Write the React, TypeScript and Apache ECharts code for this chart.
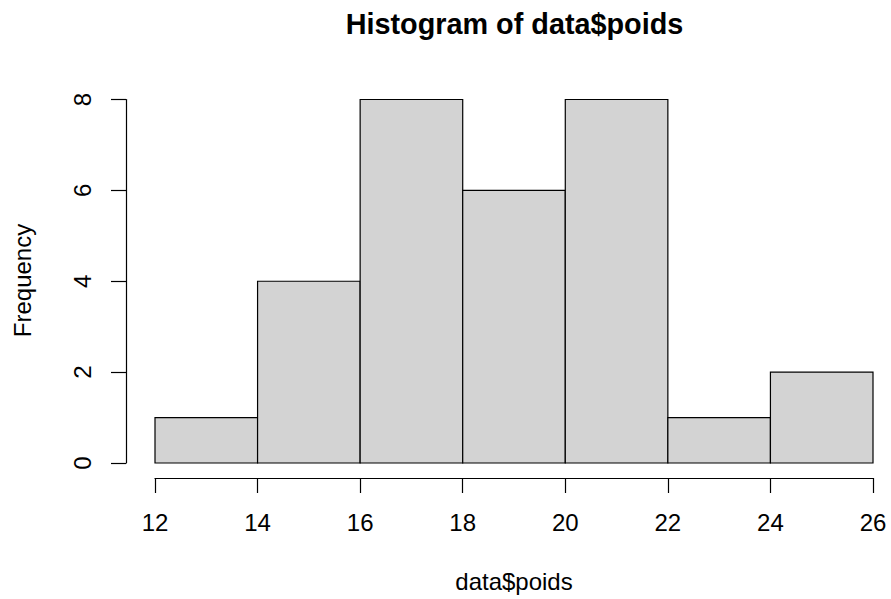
import React, { useEffect, useRef } from "react";
import * as echarts from "echarts";

const binStarts = [12, 14, 16, 18, 20, 22, 24];
const binEnds = [14, 16, 18, 20, 22, 24, 26];
const counts = [1, 4, 8, 6, 8, 1, 2];
const titleText = "Histogram of data$poids";
const xLabel = "data$poids";
const yLabel = "Frequency";

const FONT = "'Liberation Sans', Arial, Helvetica, sans-serif";

export default function App() {
  const ref = useRef<HTMLDivElement>(null);
  useEffect(() => {
    if (!ref.current) return;
    const chart = echarts.init(ref.current, null, { renderer: "svg" });
    const data = binStarts.map((s, i) => [s, binEnds[i], counts[i]]);
    chart.setOption({
      animation: false,
      backgroundColor: "#ffffff",
      grid: { left: 155, right: 18, top: 99.5, bottom: 136, containLabel: false },
      xAxis: {
        type: "value",
        min: 12,
        max: 26,
        interval: 2,
        offset: 15,
        splitLine: { show: false },
        axisLine: { show: true, onZero: false, lineStyle: { color: "#000", width: 1.2 } },
        axisTick: { show: true, length: 15, lineStyle: { color: "#000", width: 1.2 } },
        axisLabel: { color: "#000", fontSize: 24, fontFamily: FONT, margin: 32 },
      },
      yAxis: {
        type: "value",
        min: 0,
        max: 8,
        interval: 2,
        offset: 29,
        splitLine: { show: false },
        axisLine: { show: true, onZero: false, lineStyle: { color: "#000", width: 1.2 } },
        axisTick: { show: true, length: 15, lineStyle: { color: "#000", width: 1.2 } },
        axisLabel: { color: "#000", fontSize: 24, fontFamily: FONT, margin: 32, rotate: 90 },
      },
      series: [
        {
          type: "custom",
          data,
          encode: { x: [0, 1], y: 2 },
          renderItem: (params: any, api: any) => {
            const p0 = api.coord([api.value(0), 0]);
            const p1 = api.coord([api.value(1), api.value(2)]);
            return {
              type: "rect",
              shape: { x: p0[0], y: p1[1], width: p1[0] - p0[0], height: p0[1] - p1[1] },
              style: { fill: "#D3D3D3", stroke: "#000", lineWidth: 1.2 },
            };
          },
        },
      ],
      graphic: [
        {
          type: "text",
          x: 514.5,
          y: 24,
          style: {
            text: titleText,
            font: `bold 28.8px ${FONT}`,
            fill: "#000",
            align: "center",
            verticalAlign: "middle",
          },
        },
        {
          type: "text",
          x: 514,
          y: 581.5,
          style: {
            text: xLabel,
            font: `24px ${FONT}`,
            fill: "#000",
            align: "center",
            verticalAlign: "middle",
          },
        },
        {
          type: "text",
          x: 22.5,
          y: 280.5,
          rotation: Math.PI / 2,
          style: {
            text: yLabel,
            font: `24px ${FONT}`,
            fill: "#000",
            align: "center",
            verticalAlign: "middle",
          },
        },
      ],
    });
    return () => chart.dispose();
  }, []);
  return (
    <div
      ref={ref}
      style={{ position: "fixed", left: 0, top: 0, width: 891, height: 599 }}
    />
  );
}
